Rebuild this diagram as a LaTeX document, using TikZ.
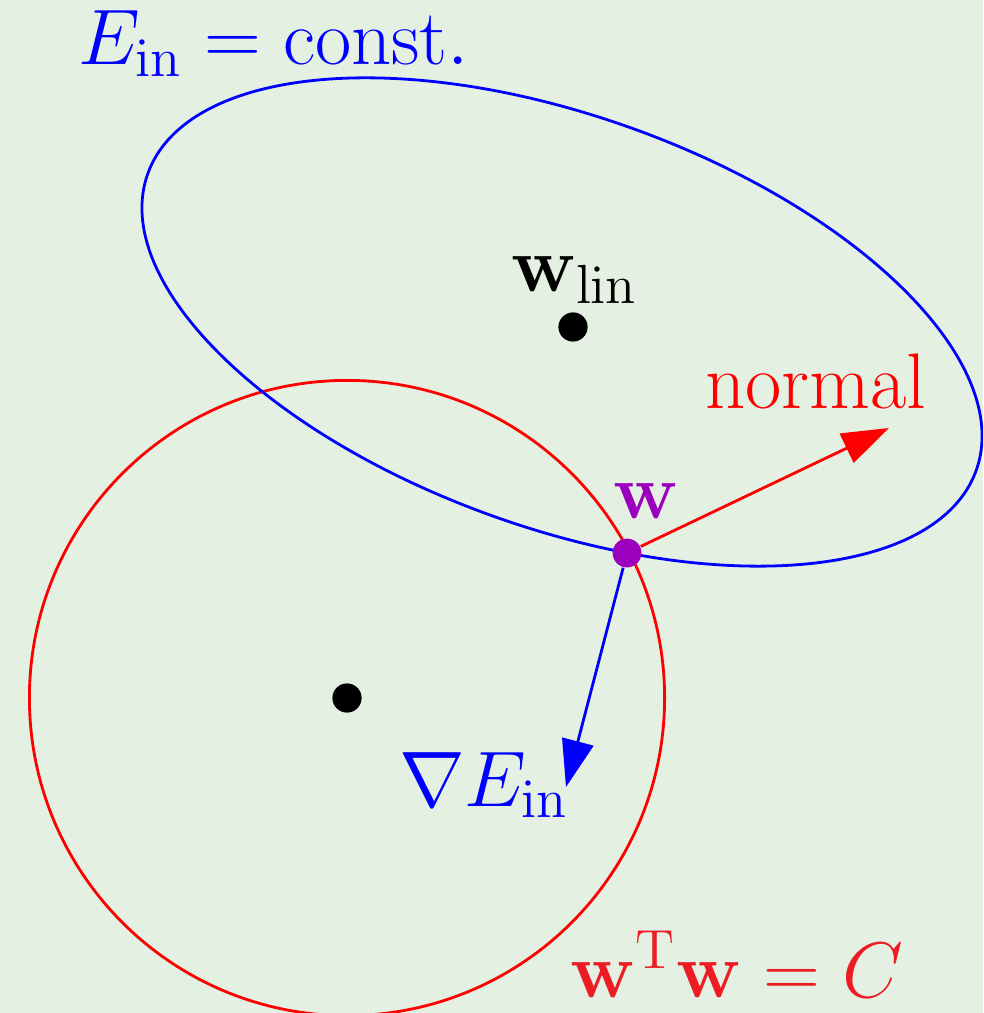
\RequirePackage{fix-cm}
\documentclass[tikz,border=0pt]{standalone}
\usetikzlibrary{arrows.meta}
\definecolor{bg}{HTML}{E4F0E2}
\definecolor{wpurple}{RGB}{155,0,190}
\definecolor{cred}{RGB}{237,28,36}
\tikzset{
  dot/.style={circle, fill=black, inner sep=0pt, minimum size=7.3pt},
  wdot/.style={circle, fill=wpurple, inner sep=0pt, minimum size=7.2pt},
  vec/.style={line width=0.7pt, -{Triangle[length=11.75pt, width=8pt]}},
  lbl/.style={anchor=base, inner sep=0pt, font=\fontsize{19.7}{24}\selectfont},
}
\begin{document}
\begin{tikzpicture}[x=0.25pt, y=-0.25pt]
\path[use as bounding box, fill=bg] (0,0) rectangle (983,1013);
\clip (0,0) rectangle (983,1013);
% curves
\draw[red, line width=0.7pt] (347,698) circle[radius=79.4pt];
\draw[blue, line width=0.7pt, rotate around={-19.7:(562,322)}] (562,322) ellipse[x radius=110pt, y radius=51.5pt];
% points
\node[dot] (c0) at (347,698) {};
\node[dot] (wlin) at (573,327) {};
\node[wdot] (w) at (627,553) {};
\coordinate (ntip) at (889,428);
\coordinate (gtip) at (566,787);
% vectors
\draw[vec, red] (w) -- (ntip);
\draw[vec, blue] (w) -- (gtip);
% labels
\node[lbl, text=blue] (econst) at (274,65) {$E_{\mathrm{in}} = \mathrm{const.}$};
\node[lbl] (wlinlbl) at (575,292) {$\mathbf{w}_{\mathrm{lin}}$};
\node[lbl, text=red] (normal) at (816,409) {normal};
\node[lbl, text=wpurple] (wlbl) at (646,519) {$\mathbf{w}$};
\node[lbl, text=blue] (grad) at (484,806) {$\nabla E_{\mathrm{in}}$};
\node[lbl, text=cred] (constr) at (737,997) {$\mathbf{w}^{\mathrm{T}}\mathbf{w} = C$};
\end{tikzpicture}
\end{document}
